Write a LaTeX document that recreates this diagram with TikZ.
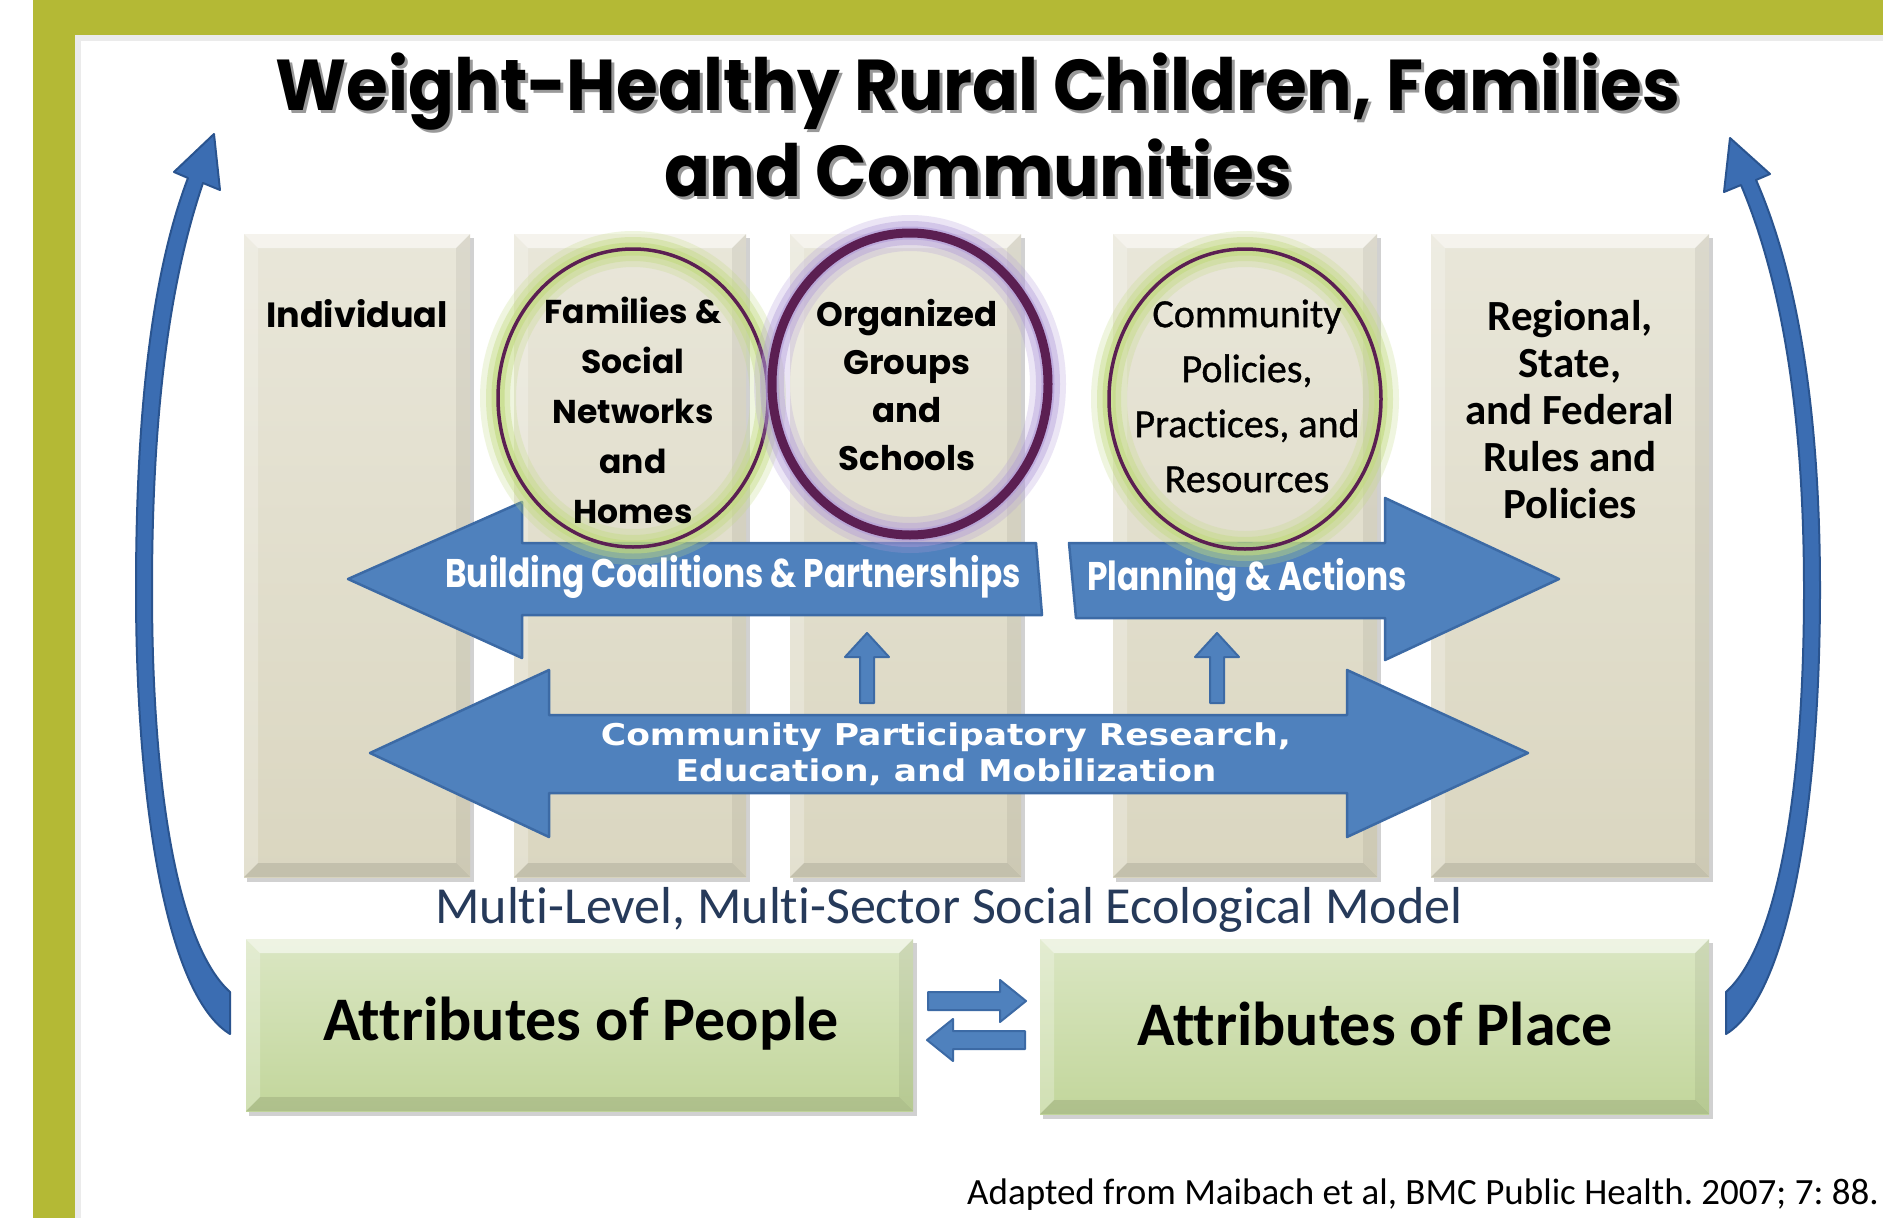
\documentclass[tikz,border=0pt]{standalone}
\usepackage{fontspec}
\setmainfont{Carlito}[Ligatures=NoCommon]
\newfontfamily\calmed{Carlito}[Ligatures=NoCommon,FakeBold=0.9]
\newfontfamily\geo{Poppins}
\newfontfamily\geot{Poppins}[FakeStretch=0.94]
\newfontfamily\geoc{Poppins}[FakeStretch=0.82]
\newfontfamily\dvs{DejaVu Sans}[FakeStretch=1.15]
\definecolor{frameolive}{HTML}{B4B935}
\definecolor{pillarc}{HTML}{DAD6C0}
\definecolor{greenc}{HTML}{C2D69B}
\definecolor{arrowblue}{HTML}{4F81BD}
\definecolor{arrowedge}{HTML}{3C6AA5}
\definecolor{curveblue}{HTML}{3B6DB2}
\definecolor{curveedge}{HTML}{2A548F}
\definecolor{ringc}{HTML}{5B1F52}
\definecolor{glowgreen}{HTML}{C2DA80}
\definecolor{glowpurple}{HTML}{B09AD8}
\definecolor{modeltext}{HTML}{263A5A}
\newcommand\bevbox[6]{%
  \fill[black,opacity=.18] (#1+3,#2+4) rectangle (#3+4,#4+5);
  \shade[top color=#5!60!white, bottom color=#5] (#1,#2) rectangle (#3,#4);
  \fill[white,opacity=.55] (#1,#2) -- (#3,#2) -- (#3-#6,#2+#6) -- (#1+#6,#2+#6) -- cycle;
  \fill[white,opacity=.25] (#1,#2) -- (#1+#6,#2+#6) -- (#1+#6,#4-#6) -- (#1,#4) -- cycle;
  \fill[black,opacity=.06] (#3,#2) -- (#3,#4) -- (#3-#6,#4-#6) -- (#3-#6,#2+#6) -- cycle;
  \fill[black,opacity=.10] (#1,#4) -- (#3,#4) -- (#3-#6,#4-#6) -- (#1+#6,#4-#6) -- cycle;
}
\newcommand\glowring[6]{% cx cy rx ry glow ringwidth
  \draw[#5, line width=36pt, opacity=.25] (#1,#2) ellipse [x radius=#3, y radius=#4];
  \draw[#5, line width=24pt, opacity=.4] (#1,#2) ellipse [x radius=#3, y radius=#4];
  \draw[#5, line width=13pt, opacity=.6] (#1,#2) ellipse [x radius=#3, y radius=#4];
  \draw[ringc, line width=#6] (#1,#2) ellipse [x radius=#3, y radius=#4];
}
\begin{document}
\begin{tikzpicture}[x=1pt,y=-1pt,
  blk/.style={fill=arrowblue, draw=arrowedge, line width=2.5pt, line join=round},
  curv/.style={fill=curveblue, draw=curveedge, line width=2pt, line join=round},
  lbl/.style={inner sep=0pt, align=center}]
\useasboundingbox (0,0) rectangle (1883,1218);
\fill[white] (0,0) rectangle (1883,1218);
% frame
\fill[frameolive] (33,0) rectangle (1883,35);
\fill[frameolive] (33,0) rectangle (75,1218);
\fill[black,opacity=.08] (75,35) rectangle (1883,41);
\fill[black,opacity=.08] (75,41) rectangle (81,1218);
% pillars
\bevbox{244}{234}{470}{877}{pillarc}{14}
\bevbox{514}{234}{746}{877}{pillarc}{14}
\bevbox{790}{234}{1021}{877}{pillarc}{14}
\bevbox{1113}{234}{1377}{877}{pillarc}{14}
\bevbox{1431}{234}{1709}{877}{pillarc}{14}
% curved arrows
\path[curv] (230,1034) .. controls (166,995) and (136,800) .. (136,590)
  .. controls (136,390) and (156,262) .. (188,178)
  -- (174,172) -- (214,134) -- (220,190) -- (203,183)
  .. controls (174,268) and (152,392) .. (152,590)
  .. controls (152,790) and (178,945) .. (230,992) -- cycle;
\path[curv] (1726,1034) .. controls (1790,995) and (1820,800) .. (1820,590)
  .. controls (1820,390) and (1792,262) .. (1756,180)
  -- (1770,174) -- (1730,138) -- (1724,192) -- (1741,185)
  .. controls (1776,268) and (1804,392) .. (1804,590)
  .. controls (1804,790) and (1778,945) .. (1726,992) -- cycle;
% big blue arrows
\path[blk] (348,579) -- (522,502) -- (522,543) -- (1036,543) -- (1042,615) -- (522,615) -- (522,658) -- cycle;
\path[blk] (1559,579) -- (1385,498) -- (1385,543) -- (1069,543) -- (1076,618) -- (1385,618) -- (1385,660) -- cycle;
\path[blk] (370,753) -- (549,670) -- (549,715) -- (1347,715) -- (1347,670) -- (1528,753) -- (1347,837) -- (1347,793) -- (549,793) -- (549,837) -- cycle;
% small up arrows
\path[blk, line width=2pt] (860,703) -- (860,657) -- (845,657) -- (867,633) -- (889,657) -- (874,657) -- (874,703) -- cycle;
\path[blk, line width=2pt] (1210,703) -- (1210,657) -- (1195,657) -- (1217,633) -- (1239,657) -- (1224,657) -- (1224,703) -- cycle;
% ellipses
\glowring{633}{398}{135}{149}{glowgreen}{3.5pt}
\glowring{910}{384}{138}{151}{glowpurple}{9pt}
\glowring{1245}{399}{136}{150}{glowgreen}{3.5pt}
% pillar texts
\node[lbl, font=\geo\bfseries\fontsize{35}{50}\selectfont] (individual) at (357,314) {Individual};
\node[lbl, font=\geo\bfseries\fontsize{33}{50}\selectfont] (families) at (633,410) {Families \&\\Social\\Networks\\and\\Homes};
\node[lbl, font=\geo\bfseries\fontsize{34}{48}\selectfont] (organized) at (907,385) {Organized\\Groups\\and\\Schools};
\node[lbl, font=\calmed\fontsize{40}{55}\selectfont] (community) at (1247,396) {Community\\Policies,\\Practices, and\\Resources};
\node[lbl, font=\bfseries\fontsize{43}{47}\selectfont] (regional) at (1570,410) {Regional,\\State,\\and Federal\\Rules and\\Policies};
% arrow labels
\node[lbl, text=white, font=\geoc\bfseries\fontsize{40}{48}\selectfont] (bcp) at (733,577) {Building Coalitions \& Partnerships};
\node[lbl, text=white, font=\geoc\bfseries\fontsize{40}{48}\selectfont] (plan) at (1247,580) {Planning \& Actions};
\node[lbl, text=white, font=\dvs\bfseries\fontsize{30}{36}\selectfont] (cpr) at (946,754) {Community Participatory Research,\\Education, and Mobilization};
% model caption
\node[lbl, text=modeltext, font=\fontsize{52}{60}\selectfont] (model) at (949,910) {Multi-Level, Multi-Sector Social Ecological Model};
% green boxes
\bevbox{246}{939}{913}{1111}{greenc}{14}
\bevbox{1040}{939}{1709}{1114}{greenc}{14}
\node[lbl, font=\bfseries\fontsize{62}{70}\selectfont] (people) at (581,1024) {Attributes of People};
\node[lbl, font=\bfseries\fontsize{62}{70}\selectfont] (place) at (1375,1024) {Attributes of Place};
% exchange arrows
\path[blk, line width=2pt] (928,992) -- (1000,992) -- (1000,980) -- (1026,1001) -- (1000,1022) -- (1000,1010) -- (928,1010) -- cycle;
\path[blk, line width=2pt] (1025,1031) -- (953,1031) -- (953,1019) -- (927,1040) -- (953,1061) -- (953,1049) -- (1025,1049) -- cycle;
% citation
\node[lbl, anchor=base west, font=\frenchspacing\fontsize{37}{44}\selectfont] (cite) at (967,1204) {Adapted from Maibach et al, BMC Public Health. 2007; 7: 88.};
% title
\node[lbl, anchor=base, text=black!40, font=\geot\bfseries\fontsize{72}{80}\selectfont] (title1s) at (981,113) {Weight-Healthy Rural Children, Families};
\node[lbl, anchor=base, text=black!40, font=\geot\bfseries\fontsize{72}{80}\selectfont] (title2s) at (981,199) {and Communities};
\node[lbl, anchor=base, font=\geot\bfseries\fontsize{72}{80}\selectfont] (title1) at (978,110) {Weight-Healthy Rural Children, Families};
\node[lbl, anchor=base, font=\geot\bfseries\fontsize{72}{80}\selectfont] (title2) at (978,196) {and Communities};
\end{tikzpicture}
\end{document}
